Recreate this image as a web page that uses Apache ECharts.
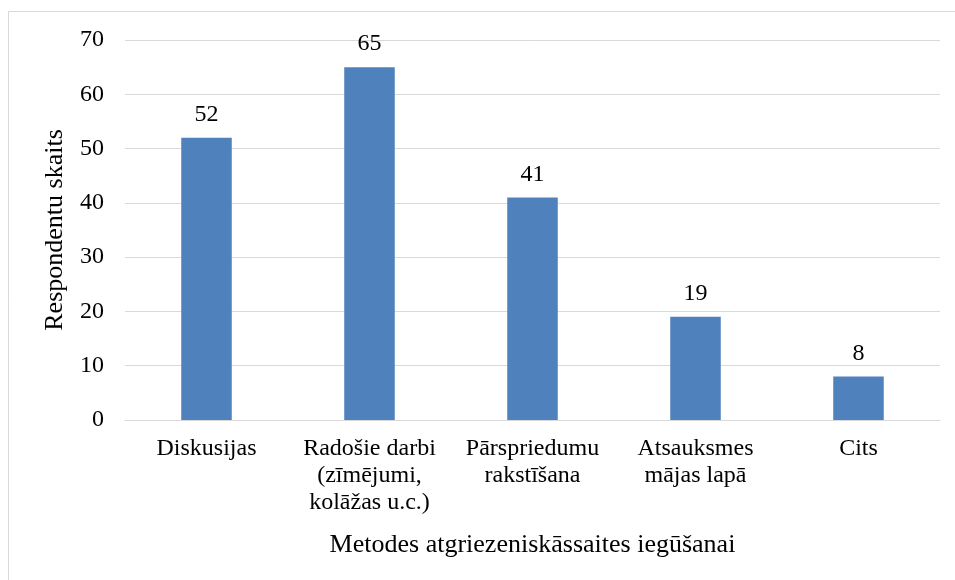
<!DOCTYPE html>
<html>
<head>
<meta charset="utf-8">
<script src="https://cdn.jsdelivr.net/npm/echarts@6/dist/echarts.min.js"></script>
<style>
html, body { margin: 0; padding: 0; background: #fff; }
#chart { width: 955px; height: 580px; }
</style>
</head>
<body>
<div id="chart"></div>
<script>
var categories = ['Diskusijas', 'Radošie darbi\n(zīmējumi,\nkolāžas u.c.)', 'Pārspriedumu\nrakstīšana', 'Atsauksmes\nmājas lapā', 'Cits'];
var values = [52, 65, 41, 19, 8];
var yTicks = [0, 10, 20, 30, 40, 50, 60, 70];

(function(){
    var chart = echarts.init(document.getElementById('chart'));
    var font = 'Liberation Serif';
    var option = {
        backgroundColor: '#fff',
        textStyle: { fontFamily: font },
        animation: false,
        graphic: [{
            type: 'rect',
            shape: { x: 8.5, y: 11.5, width: 1200, height: 1200 },
            style: { fill: 'none', stroke: '#d9d9d9', lineWidth: 1 },
            silent: true
        }],
        grid: {
            left: 125,
            right: 15,
            top: 40,
            bottom: 160
        },
        xAxis: {
            type: 'category',
            data: categories,
            name: 'Metodes atgriezeniskāssaites iegūšanai',
            nameLocation: 'middle',
            nameGap: 112,
            nameTextStyle: { fontFamily: font, fontSize: 26, color: '#000' },
            axisLine: { lineStyle: { color: '#d9d9d9', width: 1 } },
            axisTick: { show: false },
            axisLabel: {
                interval: 0,
                margin: 15,
                fontFamily: font,
                fontSize: 24,
                lineHeight: 27,
                color: '#000'
            }
        },
        yAxis: {
            type: 'value',
            min: yTicks[0],
            max: yTicks[yTicks.length - 1],
            interval: 10,
            name: 'Respondentu skaits',
            nameLocation: 'middle',
            nameGap: 57,
            nameTextStyle: { fontFamily: font, fontSize: 26, color: '#000' },
            axisLine: { show: false },
            axisTick: { show: false },
            axisLabel: { margin: 21, fontFamily: font, fontSize: 24, color: '#000' },
            splitLine: { lineStyle: { color: '#d9d9d9', width: 1 } }
        },
        series: [{
            type: 'bar',
            data: values,
            barWidth: '31%',
            itemStyle: { color: '#4f81bd' },
            label: {
                show: true,
                position: 'top',
                distance: 11,
                fontFamily: font,
                fontSize: 24,
                color: '#000'
            }
        }]
    };
    chart.setOption(option);
    window.addEventListener('resize', function(){
        chart.resize();
    });
})();
</script>
</body>
</html>
